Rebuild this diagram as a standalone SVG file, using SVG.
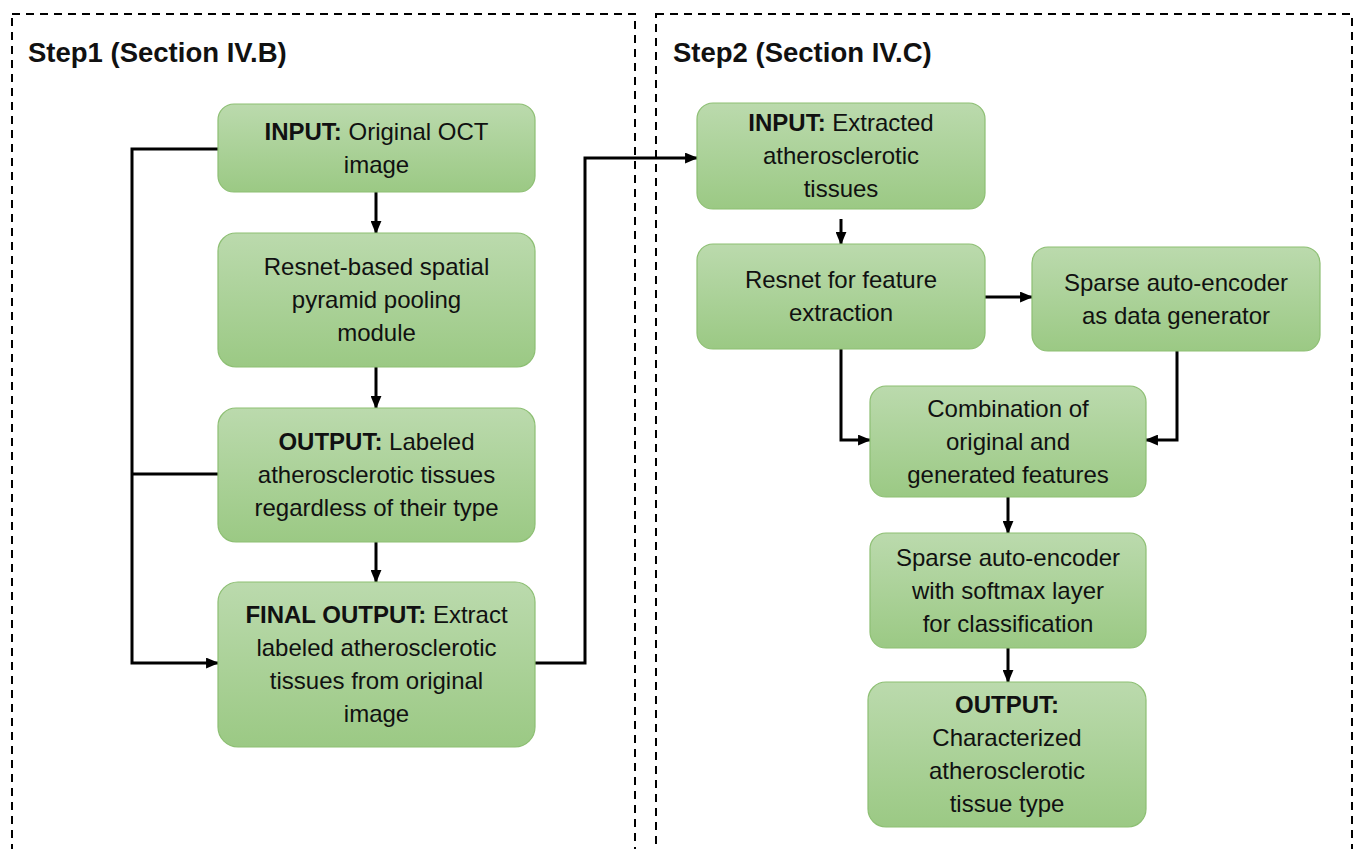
<svg xmlns="http://www.w3.org/2000/svg" width="1356" height="849" viewBox="0 0 1356 849">
<defs>
<linearGradient id="g" x1="0" y1="0" x2="0" y2="1">
<stop offset="0" stop-color="#bbdaad"/>
<stop offset="1" stop-color="#9bc984"/>
</linearGradient>
<marker id="ah" viewBox="0 0 12 10" refX="11" refY="5" markerWidth="13" markerHeight="11" markerUnits="userSpaceOnUse" orient="auto">
<path d="M0,0 L12,5 L0,10 z" fill="#000"/>
</marker>
<style>
.frame{fill:none;stroke:#000;stroke-width:2;stroke-dasharray:8 6}
.box{fill:url(#g);stroke:#8dbf73;stroke-width:1.2}
.t{font-family:"Liberation Sans",Arial,sans-serif;font-size:24px;fill:#111;text-anchor:middle}
.b{font-weight:bold}
.h{font-family:"Liberation Sans",Arial,sans-serif;font-size:27.5px;font-weight:bold;fill:#111}
.c{fill:none;stroke:#000;stroke-width:3}
.a{marker-end:url(#ah)}
</style>
</defs>
<rect width="1356" height="849" fill="#fff"/>
<g id="frames">
<rect class="frame" x="12" y="14" width="623" height="860"/>
<rect class="frame" x="656" y="14" width="696" height="860"/>
<text class="h" x="28" y="62">Step1 (Section IV.B)</text>
<text class="h" x="673" y="62">Step2 (Section IV.C)</text>
</g>
<g id="connectors">
<line class="c a" x1="376" y1="192" x2="376" y2="233"/>
<line class="c a" x1="376" y1="367" x2="376" y2="408"/>
<line class="c a" x1="376" y1="542" x2="376" y2="582"/>
<polyline class="c a" points="218,149 132,149 132,663 218,663"/>
<line class="c" x1="132" y1="474" x2="218" y2="474"/>
<polyline class="c a" points="535,663 585,663 585,158 697,158"/>
<line class="c a" x1="841" y1="219" x2="841" y2="244"/>
<line class="c a" x1="985" y1="297" x2="1032" y2="297"/>
<polyline class="c a" points="841,349 841,440 870,440"/>
<polyline class="c a" points="1177,351 1177,440 1146,440"/>
<line class="c a" x1="1008" y1="497" x2="1008" y2="533"/>
<line class="c a" x1="1008" y1="648" x2="1008" y2="682"/>
</g>
<g id="n1">
<rect class="box" x="218" y="104" width="317" height="88" rx="16"/>
<text class="t" x="376.5" y="140"><tspan class="b">INPUT:</tspan> Original OCT</text>
<text class="t" x="376.5" y="173">image</text>
</g>
<g id="n2">
<rect class="box" x="218" y="233" width="317" height="134" rx="18"/>
<text class="t" x="376.5" y="275">Resnet-based spatial</text>
<text class="t" x="376.5" y="308">pyramid pooling</text>
<text class="t" x="376.5" y="341">module</text>
</g>
<g id="n3">
<rect class="box" x="218" y="408" width="317" height="134" rx="18"/>
<text class="t" x="376.5" y="450"><tspan class="b">OUTPUT:</tspan> Labeled</text>
<text class="t" x="376.5" y="483">atherosclerotic tissues</text>
<text class="t" x="376.5" y="516">regardless of their type</text>
</g>
<g id="n4">
<rect class="box" x="218" y="582" width="317" height="165" rx="20"/>
<text class="t" x="376.5" y="623"><tspan class="b">FINAL OUTPUT:</tspan> Extract</text>
<text class="t" x="376.5" y="656">labeled atherosclerotic</text>
<text class="t" x="376.5" y="689">tissues from original</text>
<text class="t" x="376.5" y="722">image</text>
</g>
<g id="n5">
<rect class="box" x="697" y="103" width="288" height="106" rx="16"/>
<text class="t" x="841" y="131"><tspan class="b">INPUT:</tspan> Extracted</text>
<text class="t" x="841" y="164">atherosclerotic</text>
<text class="t" x="841" y="197">tissues</text>
</g>
<g id="n6">
<rect class="box" x="697" y="244" width="288" height="105" rx="16"/>
<text class="t" x="841" y="288">Resnet for feature</text>
<text class="t" x="841" y="321">extraction</text>
</g>
<g id="n7">
<rect class="box" x="1032" y="247" width="288" height="104" rx="16"/>
<text class="t" x="1176" y="291">Sparse auto-encoder</text>
<text class="t" x="1176" y="324">as data generator</text>
</g>
<g id="n8">
<rect class="box" x="870" y="386" width="276" height="111" rx="16"/>
<text class="t" x="1008" y="417">Combination of</text>
<text class="t" x="1008" y="450">original and</text>
<text class="t" x="1008" y="483">generated features</text>
</g>
<g id="n9">
<rect class="box" x="870" y="533" width="276" height="115" rx="16"/>
<text class="t" x="1008" y="566">Sparse auto-encoder</text>
<text class="t" x="1008" y="599">with softmax layer</text>
<text class="t" x="1008" y="632">for classification</text>
</g>
<g id="n10">
<rect class="box" x="868" y="682" width="278" height="145" rx="18"/>
<text class="t b" x="1007" y="713">OUTPUT:</text>
<text class="t" x="1007" y="746">Characterized</text>
<text class="t" x="1007" y="779">atherosclerotic</text>
<text class="t" x="1007" y="812">tissue type</text>
</g>
</svg>
